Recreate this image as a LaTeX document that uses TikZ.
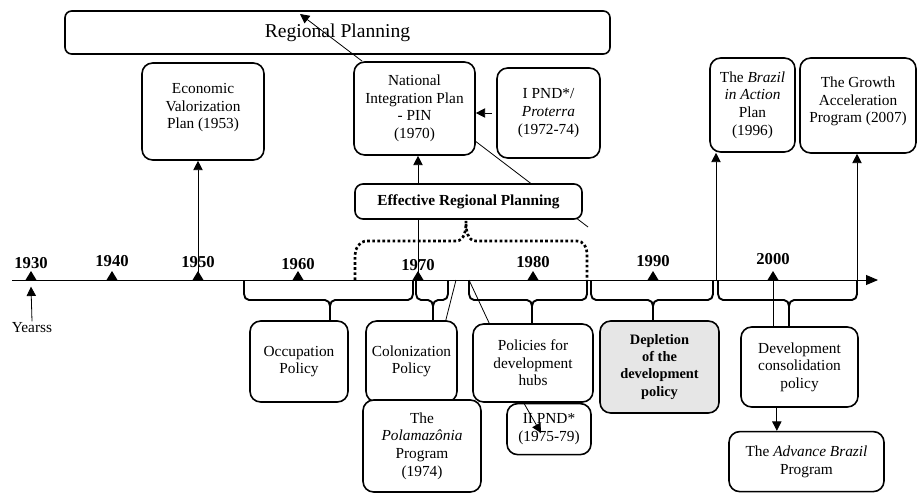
\documentclass[tikz,border=0pt]{standalone}
\usepackage{fontspec}
\setmainfont{Liberation Serif}
\usepackage{xcolor}
\definecolor{tlshade}{HTML}{E6E6E6}
\usepackage{tikz}
\usetikzlibrary{arrows.meta,positioning,calc}
\tikzset{
  tlbox/.style={draw,line width=1.2pt,rounded corners=8pt,fill=white,inner sep=2pt,align=center,font={\fontsize{11.5}{13.2}\selectfont}},
  tlhead/.style={tlbox,rounded corners=5pt,font={\fontsize{14.7}{16}\selectfont}},
  tlflow/.style={-{Triangle[length=7pt,width=7pt]},line width=0.6pt},
  tlline/.style={line width=0.6pt},
  tlbrace/.style={line width=1.4pt,line join=round},
  tldots/.style={line width=2pt,dash pattern=on 2pt off 1.8pt},
  tlyear/.style={font={\bfseries\fontsize{12.5}{14}\selectfont},inner sep=0pt},
}
% period brace under the axis: left end, right end, tip, stem bottom
\newcommand{\tlbrc}[4]{%
  \draw[tlbrace] (#1,-280) -- (#1,-294) to[out=-90,in=180] (#1+5,-300) -- (#3-5,-300) to[out=0,in=90] (#3,-306) -- (#3,-#4);
  \draw[tlbrace] (#2,-280) -- (#2,-294) to[out=-90,in=0] (#2-5,-300) -- (#3+5,-300) to[out=180,in=90] (#3,-306);}

\begin{document}
\begin{tikzpicture}[x=0.75pt,y=0.75pt]
\useasboundingbox (0,0) rectangle (919,-493);
% time axis
\draw[line width=0.7pt,-{Triangle[length=9pt,width=7.5pt]}] (12,-280) -- (878,-280);
\foreach \yr/\xx/\yy in {1930/31/263,1940/112/261,1950/198/262,1960/298/264,1970/418/265,1980/533/262,1990/653/261,2000/773/259}{
  \coordinate (t\yr) at (\xx,-280);
  \fill (\xx-5.5,-280) -- (\xx+5.5,-280) -- (\xx,-271) -- cycle;
  \node[tlyear] (y\yr) at (\xx,-\yy) {\yr};
}
\coordinate (a72) at (456,-280);\coordinate (a74) at (469,-280);
\coordinate (a1996) at (716,-280);\coordinate (a2007) at (857,-280);
\node[font={\fontsize{11.5}{13}\selectfont},inner sep=1pt] (yrs) at (32,-328) {Yearss};
\draw[tlflow] (yrs.north) -- ([yshift=-5pt]t1930);

% plans above the axis
\node[tlhead,minimum width=408.75pt,minimum height=32.25pt] (rp) at (337.5,-32.5) {Regional Planning};
\node[tlbox,minimum width=91.5pt,minimum height=72.75pt] (evp) at (203,-111.5) {Economic\\Valorization\\Plan (1953)\\[-5pt]\phantom{X}};
\node[tlbox,minimum width=90.75pt,minimum height=69.75pt] (pin) at (414.5,-108.5) {National\\Integration Plan\\- PIN\\(1970)};
\node[tlbox,minimum width=77.25pt,minimum height=67.5pt] (ipnd) at (548.5,-113) {I PND*/\\\textit{Proterra}\\(1972-74)};
\node[tlbox,minimum width=63.75pt,minimum height=70.5pt] (bia) at (752.5,-105) {The \textit{Brazil}\\\textit{in Action}\\Plan\\(1996)};
\node[tlbox,minimum width=87pt,minimum height=71.25pt] (gap) at (858,-105.5) {The Growth\\Acceleration\\Program (2007)\\[-5pt]\phantom{X}};
\coordinate (rptip) at (300,-14);
\coordinate (erpend) at (588,-227);
\draw[tlflow] ($(pin.north west)+(9,0)$) -- (rptip);
\draw[tlline] ($(pin.east)+(0,-33)$) -- (erpend);
\draw[tlflow] (t1970) -- (pin.south -| t1970);
\draw[tlflow,shorten <=3pt] (ipnd.west) -- (ipnd.west -| pin.east);
\node[tlbox,rounded corners=6pt,font={\bfseries\fontsize{11.5}{13}\selectfont},minimum width=170.25pt,minimum height=26.25pt] (erp) at (468.5,-201.5) {Effective Regional Planning};
\draw[tldots] (355,-280) -- (355,-255) to[out=90,in=180] (367,-241) -- (456,-241) to[out=0,in=-90] (466,-221) to[out=-90,in=180] (476,-241) -- (577,-241) to[out=0,in=90] (587,-253) -- (587,-280);
\draw[tlflow] (t1950) -- (evp.south -| t1950);
\draw[tlflow] (a1996) -- (bia.south -| a1996);
\draw[tlflow] (a2007) -- (gap.south -| a2007);

% periods below the axis
\tlbrc{244}{413}{330}{321}
\tlbrc{416}{448}{433}{321}
\tlbrc{469}{587}{532}{324}
\tlbrc{591}{713}{653}{321}
\tlbrc{718}{857}{789}{327}
\node[tlbox,minimum width=73.5pt,minimum height=60.75pt] (occ) at (299,-361.5) {Occupation\\Policy};
\node[tlbox,minimum width=68.25pt,minimum height=60.75pt] (col) at (411.5,-361.5) {Colonization\\Policy};
\node[tlbox,minimum width=90pt,minimum height=58.5pt] (pol) at (533,-363) {Policies for\\development\\hubs};
\node[tlbox,minimum width=88.5pt,minimum height=69pt] (pola) at (422,-446) {The\\\textit{Polamazônia}\\Program\\(1974)};
\node[tlbox,minimum width=63pt,minimum height=38.25pt,below=0pt of pol,xshift=12pt] (iipnd) {II PND*\\(1975-79)};
\node[tlbox,fill=tlshade,font={\bfseries\fontsize{10.8}{12.8}\selectfont},minimum width=89.25pt,minimum height=69pt] (dep) at (659.5,-367) {Depletion\\of the\\development\\policy};
\node[tlbox,minimum width=87.75pt,minimum height=60pt] (dev) at (799.5,-367) {Development\\consolidation\\policy};
\node[tlbox,minimum width=116.25pt,minimum height=45pt,below=17.25pt of dev,xshift=5.25pt] (adv) {The \textit{Advance Brazil}\\Program};
\draw[tlline] (a72) -- ($(col.north east)+(-12,0)$);
\draw[tlline] (a74) -- ($(pol.north west)+(17,0)$);
\draw[tlline] (t2000) -- (dev.north -| t2000);
\coordinate (dvs) at ([xshift=-17pt]dev.south);
\draw[tlflow] (dvs) -- (dvs |- adv.north);
\coordinate (pndtip) at (541,-433);
\draw[tlflow] ([xshift=-7pt]pol.south) -- (pndtip);
\end{tikzpicture}
\end{document}
